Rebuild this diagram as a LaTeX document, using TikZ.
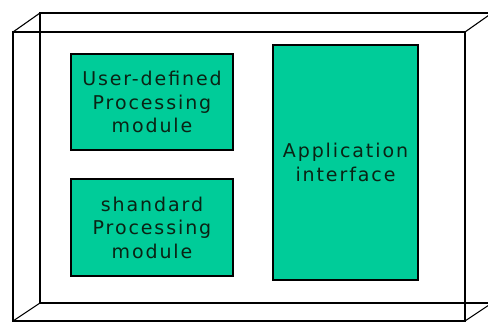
\documentclass[tikz,border=0pt]{standalone}
\usepackage{fontspec}
\setmainfont{DejaVu Sans}[LetterSpace=10]
\begin{document}
\begin{tikzpicture}[x=1pt,y=-1pt,
  module/.style={draw=black, line width=1.1pt, fill=modgreen, text=modtext,
    inner sep=0pt, align=center, font=\fontsize{19}{23.5}\selectfont},
  edge/.style={draw=black, line width=1.1pt}]
\definecolor{modgreen}{RGB}{0,204,153}
\definecolor{modtext}{RGB}{10,35,20}
\useasboundingbox (0,0) rectangle (488,323);
\clip (0,0) rectangle (488,323);
% cube wireframe
\coordinate (f1) at (13,32);  \coordinate (f2) at (465,32);
\coordinate (f3) at (465,321); \coordinate (f4) at (13,321);
\coordinate (b1) at (40,13);  \coordinate (b2) at (492,13);
\coordinate (b3) at (492,303); \coordinate (b4) at (40,303);
\draw[edge] (b1) -- (b2) -- (b3) -- (b4) -- cycle;
\draw[edge] (f1) -- (f2) -- (f3) -- (f4) -- cycle;
\draw[edge] (f1) -- (b1);
\draw[edge] (f2) -- (b2);
\draw[edge] (f3) -- (b3);
\draw[edge] (f4) -- (b4);
% modules
\node[module, minimum width=162pt, minimum height=96pt] (user) at (152,102) {User-defined\\Processing\\module};
\node[module, minimum width=162pt, minimum height=97pt] (std) at (152,227.5) {shandard\\Processing\\module};
\node[module, minimum width=145pt, minimum height=235pt] (app) at (345.5,162.5) {Application\\interface};
\end{tikzpicture}
\end{document}
